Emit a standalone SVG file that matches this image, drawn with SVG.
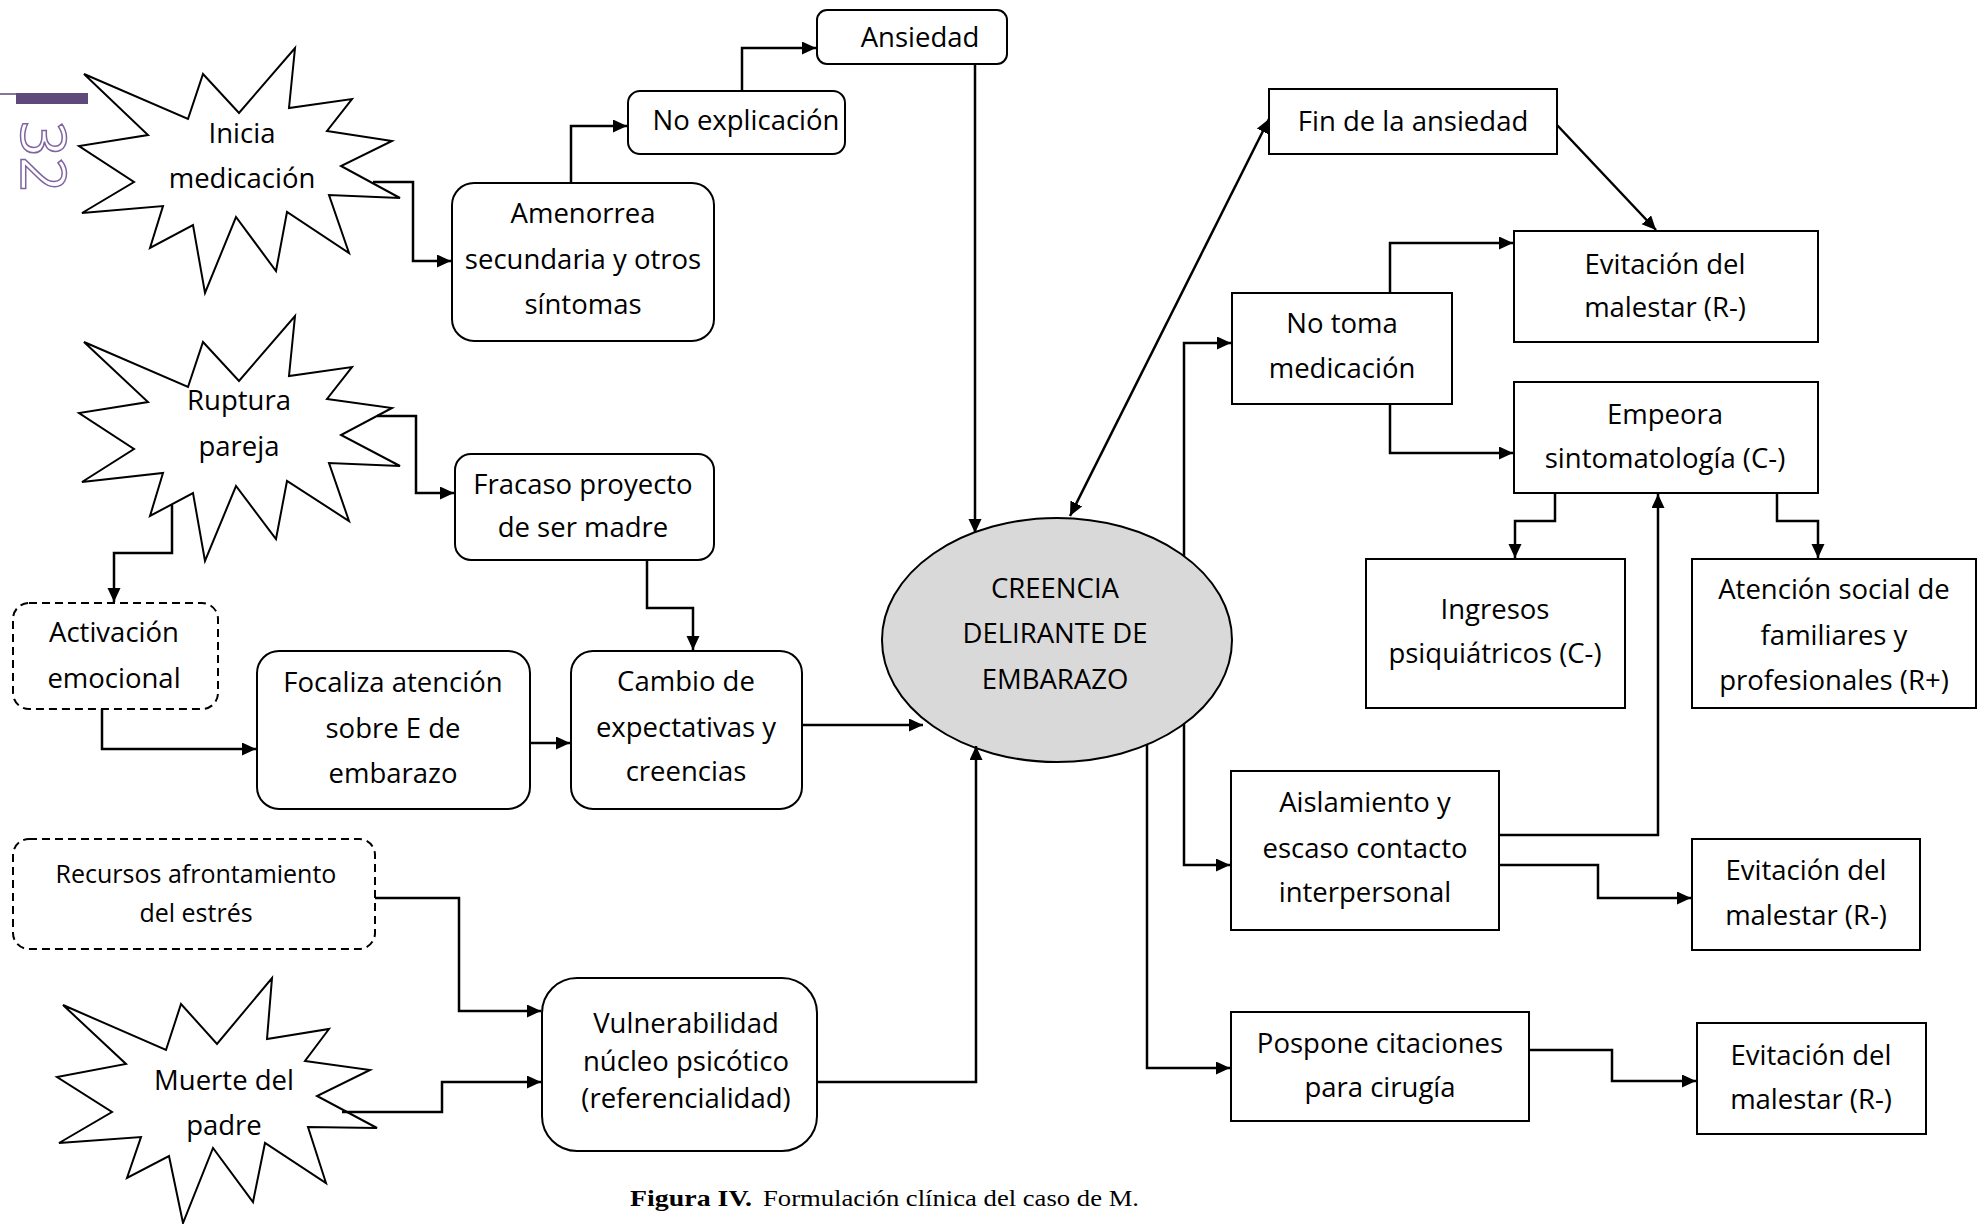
<svg xmlns="http://www.w3.org/2000/svg" width="1978" height="1224" viewBox="0 0 1978 1224">
<defs>
<marker id="arr" markerUnits="userSpaceOnUse" markerWidth="16" markerHeight="14" refX="14" refY="6.5" orient="auto-start-reverse"><path d="M0,0 L14,6.5 L0,13 z" fill="#000"/></marker>
<style>
.t{font-family:"Open Sans","Liberation Sans",sans-serif;font-size:27.5px;fill:#000;text-anchor:middle}
.box{fill:#fff;stroke:#000;stroke-width:2}
.dash{fill:#fff;stroke:#000;stroke-width:2;stroke-dasharray:8 5}
.burst{fill:#fff;stroke:#000;stroke-width:2;stroke-linejoin:miter}
.c{fill:none;stroke:#000;stroke-width:2.5;marker-end:url(#arr)}
.cap{font-family:"Liberation Serif","Times New Roman",serif;font-size:23px;fill:#000}
</style>
</defs>
<rect width="1978" height="1224" fill="#fff"/>
<g id="margin">
<line x1="0" y1="94" x2="16" y2="94" stroke="#5f497a" stroke-width="1.5"/>
<rect x="16" y="93" width="72" height="11" fill="#5f497a"/>
<text transform="translate(21,121) rotate(90)" font-family="Open Sans, sans-serif" font-size="62" fill="#fff" stroke="#8064a2" stroke-width="1.5">32</text>
</g>
<g id="nodes">
<g id="n-inicia"><polygon class="burst" points="84,74 188,119 203,74 239,113 295,48 289,108 352,99 327,131 392,141 341,166 400,198 329,195 349,253 287,212 276,271 236,217 205,293 193,225 150,248 163,206 82,213 134,182 79,146 148,135"/><text class="t" x="242" y="143">Inicia</text><text class="t" x="242" y="188">medicación</text></g>
<g id="n-amenorrea"><rect class="box" x="452" y="183" width="262" height="158" rx="22"/><text class="t" x="583" y="223">Amenorrea</text><text class="t" x="583" y="269">secundaria y otros</text><text class="t" x="583" y="314">síntomas</text></g>
<g id="n-noexpl"><rect class="box" x="628" y="91" width="217" height="63" rx="12"/><text class="t" x="746" y="130">No explicación</text></g>
<g id="n-ansiedad"><rect class="box" x="817" y="10" width="190" height="54" rx="10"/><text class="t" x="920" y="47">Ansiedad</text></g>
<g id="n-ruptura"><polygon class="burst" points="84,342 188,387 203,342 239,381 295,316 289,376 352,367 327,399 392,408 341,435 400,466 329,463 349,521 287,481 276,539 236,486 205,561 193,493 150,516 163,473 82,482 134,449 79,413 148,402"/><text class="t" x="239" y="410">Ruptura</text><text class="t" x="239" y="456">pareja</text></g>
<g id="n-activacion"><rect class="dash" x="13" y="603" width="205" height="106" rx="16"/><text class="t" x="114" y="642">Activación</text><text class="t" x="114" y="688">emocional</text></g>
<g id="n-fracaso"><rect class="box" x="455" y="454" width="259" height="106" rx="16"/><text class="t" x="583" y="494">Fracaso proyecto</text><text class="t" x="583" y="537">de ser madre</text></g>
<g id="n-focaliza"><rect class="box" x="257" y="651" width="273" height="158" rx="22"/><text class="t" x="393" y="692">Focaliza atención</text><text class="t" x="393" y="738">sobre E de</text><text class="t" x="393" y="783">embarazo</text></g>
<g id="n-cambio"><rect class="box" x="571" y="651" width="231" height="158" rx="22"/><text class="t" x="686" y="691">Cambio de</text><text class="t" x="686" y="737">expectativas y</text><text class="t" x="686" y="781">creencias</text></g>
<g id="n-recursos"><rect class="dash" x="13" y="839" width="362" height="110" rx="16"/><text class="t" x="196" y="883" style="font-size:25px">Recursos afrontamiento</text><text class="t" x="196" y="922" style="font-size:25px">del estrés</text></g>
<g id="n-muerte"><polygon class="burst" points="63,1005 166,1050 181,1004 217,1044 272,978 267,1039 329,1029 305,1061 370,1070 317,1096 377,1128 308,1127 326,1183 265,1143 253,1202 213,1148 183,1223 169,1156 127,1178 141,1137 59,1143 112,1112 57,1077 126,1064"/><text class="t" x="224" y="1090">Muerte del</text><text class="t" x="224" y="1135">padre</text></g>
<g id="n-vulner"><rect class="box" x="542" y="978" width="275" height="173" rx="35"/><text class="t" x="686" y="1033">Vulnerabilidad</text><text class="t" x="686" y="1071">núcleo psicótico</text><text class="t" x="686" y="1108">(referencialidad)</text></g>
<g id="n-creencia"><ellipse cx="1057" cy="640" rx="175" ry="122" fill="#d9d9d9" stroke="#000" stroke-width="2"/><text class="t" x="1055" y="598">CREENCIA</text><text class="t" x="1055" y="643">DELIRANTE DE</text><text class="t" x="1055" y="689">EMBARAZO</text></g>
<g id="n-fin"><rect class="box" x="1269" y="89" width="288" height="65"/><text class="t" x="1413" y="131">Fin de la ansiedad</text></g>
<g id="n-evit1"><rect class="box" x="1514" y="231" width="304" height="111"/><text class="t" x="1665" y="274">Evitación del</text><text class="t" x="1665" y="317">malestar (R-)</text></g>
<g id="n-notoma"><rect class="box" x="1232" y="293" width="220" height="111"/><text class="t" x="1342" y="333">No toma</text><text class="t" x="1342" y="378">medicación</text></g>
<g id="n-empeora"><rect class="box" x="1514" y="382" width="304" height="111"/><text class="t" x="1665" y="424">Empeora</text><text class="t" x="1665" y="468">sintomatología (C-)</text></g>
<g id="n-ingresos"><rect class="box" x="1366" y="559" width="259" height="149"/><text class="t" x="1495" y="619">Ingresos</text><text class="t" x="1495" y="663">psiquiátricos (C-)</text></g>
<g id="n-atencion"><rect class="box" x="1692" y="559" width="284" height="149"/><text class="t" x="1834" y="599">Atención social de</text><text class="t" x="1834" y="645">familiares y</text><text class="t" x="1834" y="690">profesionales (R+)</text></g>
<g id="n-aislamiento"><rect class="box" x="1231" y="771" width="268" height="159"/><text class="t" x="1365" y="812">Aislamiento y</text><text class="t" x="1365" y="858">escaso contacto</text><text class="t" x="1365" y="902">interpersonal</text></g>
<g id="n-evit2"><rect class="box" x="1692" y="839" width="228" height="111"/><text class="t" x="1806" y="880">Evitación del</text><text class="t" x="1806" y="925">malestar (R-)</text></g>
<g id="n-pospone"><rect class="box" x="1231" y="1012" width="298" height="109"/><text class="t" x="1380" y="1053">Pospone citaciones</text><text class="t" x="1380" y="1097">para cirugía</text></g>
<g id="n-evit3"><rect class="box" x="1697" y="1023" width="229" height="111"/><text class="t" x="1811" y="1065">Evitación del</text><text class="t" x="1811" y="1109">malestar (R-)</text></g>
</g>
<g id="connectors">
<path class="c" d="M373,182 H413 V261 H451"/>
<path class="c" d="M571,183 V126 H627"/>
<path class="c" d="M742,91 V48 H816"/>
<path class="c" d="M975,64 V533"/>
<path class="c" d="M377,416 H416 V493 H454"/>
<path class="c" d="M172,505 V553 H114 V602"/>
<path class="c" d="M102,709 V749 H256"/>
<path class="c" d="M530,743 H570"/>
<path class="c" d="M647,560 V608 H693 V650"/>
<path class="c" d="M802,725 H923"/>
<path class="c" d="M375,898 H459 V1011 H541"/>
<path class="c" d="M342,1112 H442 V1082 H541"/>
<path class="c" d="M817,1082 H976 V746"/>
<path class="c" d="M1070,516 L1269,119" style="marker-start:url(#arr)"/>
<path class="c" d="M1557,125 L1656,230"/>
<path class="c" d="M1390,293 V243 H1513"/>
<path class="c" d="M1390,404 V453 H1513"/>
<path class="c" d="M1184,556 V343 H1231"/>
<path class="c" d="M1184,724 V865 H1230"/>
<path class="c" d="M1147,745 V1068 H1230"/>
<path class="c" d="M1499,835 H1658 V494"/>
<path class="c" d="M1499,865 H1598 V898 H1691"/>
<path class="c" d="M1555,493 V521 H1515 V558"/>
<path class="c" d="M1777,493 V521 H1818 V558"/>
<path class="c" d="M1529,1050 H1612 V1081 H1696"/>
</g>
<g id="caption">
<text class="cap" x="630" y="1206" font-weight="bold" textLength="122" lengthAdjust="spacingAndGlyphs">Figura IV.</text>
<text class="cap" x="763" y="1206" textLength="376" lengthAdjust="spacingAndGlyphs">Formulación clínica del caso de M.</text>
</g>
</svg>
